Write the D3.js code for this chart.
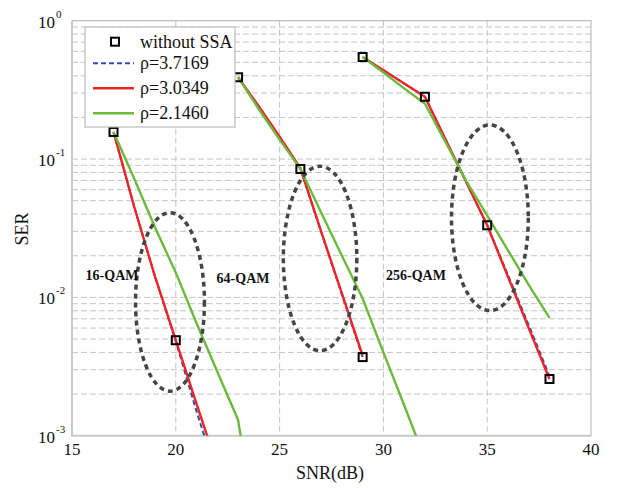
<!DOCTYPE html>
<html>
<head>
<meta charset="utf-8">
<script src="https://cdn.jsdelivr.net/npm/d3@7"></script>
<style>
  body { margin: 0; background: #fff; }
  text { font-family: "Liberation Serif", "Times New Roman", serif; fill: #111; }
</style>
</head>
<body>
<svg id="chart" width="617" height="488"></svg>
<script>
// SER vs SNR, three modulation orders
const noSsa = [[17, 0.157], [20, 0.0049], [23, 0.39], [26, 0.0847], [29, 0.0037],
    [29, 0.546], [32, 0.282], [35, 0.0332], [38, 0.00257]];

const blue16 = [[17, 0.157], [18, 0.045], [19, 0.0141], [20, 0.0048], [21, 0.0015], [22, 0.0005]];
const red16 = [[17, 0.157], [18, 0.045], [19, 0.0141], [20, 0.0049], [21, 0.0017], [22, 0.0006]];
const green16 = [[17, 0.157], [18, 0.072], [19, 0.032], [20, 0.0151], [21, 0.0065], [22, 0.0029], [23, 0.0013], [24, 0.00016]];

const blue64 = [[23, 0.39], [24, 0.24], [25, 0.145], [26, 0.0857], [27, 0.0298], [28, 0.0105], [29, 0.0037]];
const red64 = [[23, 0.39], [24, 0.24], [25, 0.145], [26, 0.0857], [27, 0.030], [28, 0.0107], [29, 0.0038]];
const green64 = [[23, 0.39], [24, 0.229], [25, 0.138], [26, 0.085], [27, 0.041], [28, 0.020], [29, 0.0098], [30, 0.0040], [31, 0.00166], [32, 0.00068]];

const blue256 = [[29, 0.546], [30, 0.439], [31, 0.352], [32, 0.282], [33, 0.138], [34, 0.0676], [35, 0.0332], [36, 0.0145], [37, 0.0063], [38, 0.0027]];
const red256 = [[29, 0.546], [30, 0.439], [31, 0.352], [32, 0.282], [33, 0.138], [34, 0.0676], [35, 0.0332], [36, 0.0141], [37, 0.0060], [38, 0.00257]];
const green256 = [[29, 0.546], [30, 0.422], [31, 0.324], [32, 0.251], [33, 0.132], [34, 0.069], [35, 0.039], [36, 0.0219], [37, 0.0123], [38, 0.0071]];

const legendLabels = ['without SSA', 'ρ=3.7169', 'ρ=3.0349', 'ρ=2.1460'];
const xTicks = [15, 20, 25, 30, 35, 40];
const yExponents = [0, -1, -2, -3];

// ellipse annotations: [centre SNR, centre SER, half width (dB), half height (decades)]
const ellipses = [[19.72, 0.00927, 1.66, 0.645], [26.95, 0.0191, 1.77, 0.667], [35.13, 0.0376, 1.85, 0.671]];
const groupLabels = [['16-QAM', 16.93, 0.0134], ['64-QAM', 23.24, 0.0128], ['256-QAM', 31.57, 0.0134]];

const colors = { blue: '#2f4fb5', red: '#ee2428', green: '#6cba3c', grid: '#c4c4c4', ring: '#454545' };

const margin = { left: 72, right: 26, top: 20.7, bottom: 52.3 },
    width = 617, height = 488;

const svg = d3.select('#chart');

const x = d3.scaleLinear().domain([15, 40]).range([margin.left, width - margin.right]);
const y = d3.scaleLog().domain([1e-3, 1]).range([height - margin.bottom, margin.top]);

const [x0, x1] = x.range(), [y0, y1] = [y(1e-3), y(1)];

svg.append('clipPath').attr('id', 'plot-clip')
    .append('rect')
    .attr('x', x0).attr('y', y1)
    .attr('width', x1 - x0).attr('height', y0 - y1);

// grid
const minorVals = [];
for (let e = -3; e < 0; e++) {
    for (let m = 2; m <= 9; m++) minorVals.push(m * Math.pow(10, e));
}

const grid = svg.append('g').attr('stroke', colors.grid).attr('stroke-dasharray', '6,3').attr('stroke-width', 1);

grid.selectAll('.hminor').data(minorVals).join('line')
    .attr('x1', x0).attr('x2', x1)
    .attr('y1', d => y(d)).attr('y2', d => y(d));

grid.selectAll('.hmajor').data([0.1, 0.01]).join('line')
    .attr('x1', x0).attr('x2', x1)
    .attr('y1', d => y(d)).attr('y2', d => y(d));

grid.selectAll('.vmajor').data(xTicks.slice(1, -1)).join('line')
    .attr('x1', d => x(d)).attr('x2', d => x(d))
    .attr('y1', y1).attr('y2', y0);

// frame
svg.append('path')
    .attr('d', `M${x0},${y1}H${x1}V${y0}`)
    .attr('fill', 'none').attr('stroke', '#bdbdbd').attr('stroke-width', 1.2);
svg.append('path')
    .attr('d', `M${x0},${y1}V${y0}H${x1}`)
    .attr('fill', 'none').attr('stroke', '#c9c9c9').attr('stroke-width', 2);

// axes labels
svg.append('g').selectAll('text').data(xTicks).join('text')
    .attr('x', d => x(d)).attr('y', 455)
    .attr('text-anchor', 'middle')
    .style('font-size', '17px')
    .text(d => d);

const yLab = svg.append('g').selectAll('text').data(yExponents).join('text')
    .attr('x', 38).attr('y', d => y(Math.pow(10, d)) + 7)
    .style('font-size', '17px');
yLab.append('tspan').text('10');
yLab.append('tspan').attr('dy', -10).attr('dx', 1).style('font-size', '11px').text(d => d);

svg.append('text')
    .attr('x', 330).attr('y', 479)
    .attr('text-anchor', 'middle')
    .style('font-size', '18px')
    .text('SNR(dB)');

svg.append('text')
    .attr('transform', 'translate(27.5,229) rotate(-90)')
    .attr('text-anchor', 'middle')
    .style('font-size', '18px')
    .text('SER');

// curves
const line = d3.line().x(d => x(d[0])).y(d => y(d[1]));
const plot = svg.append('g').attr('clip-path', 'url(#plot-clip)');

function drawSeries(data, color, dash, w) {
    plot.append('path')
        .datum(data)
        .attr('d', line)
        .attr('fill', 'none')
        .attr('stroke', color)
        .attr('stroke-width', w)
        .attr('stroke-dasharray', dash);
}

[blue16, blue64, blue256].forEach(s => drawSeries(s, colors.blue, '5,3', 2));
[red16, red64, red256].forEach(s => drawSeries(s, colors.red, null, 2.4));
[green16, green64, green256].forEach(s => drawSeries(s, colors.green, null, 2.4));

// ellipses, drawn in log space
const ring = svg.append('g')
    .attr('fill', 'none')
    .attr('stroke', colors.ring)
    .attr('stroke-width', 3.5)
    .attr('stroke-dasharray', '5,4');

ellipses.forEach(e => {
    const lc = Math.log10(e[1]);
    ring.append('ellipse')
        .attr('cx', x(e[0]))
        .attr('cy', y(e[1]))
        .attr('rx', x(e[0] + e[2]) - x(e[0]))
        .attr('ry', y(Math.pow(10, lc - e[3])) - y(e[1]));
});

svg.append('g').selectAll('text').data(groupLabels).join('text')
    .attr('x', d => x(d[1])).attr('y', d => y(d[2]))
    .attr('text-anchor', 'middle')
    .style('font-size', '14px')
    .style('font-weight', 'bold')
    .text(d => d[0]);

// markers
svg.append('g').selectAll('rect').data(noSsa).join('rect')
    .attr('x', d => x(d[0]) - 4).attr('y', d => y(d[1]) - 4)
    .attr('width', 8).attr('height', 8)
    .attr('fill', 'none').attr('stroke', '#000').attr('stroke-width', 2);

// legend
const legend = svg.append('g').attr('transform', 'translate(85,27)');

legend.append('rect')
    .attr('width', 150).attr('height', 100)
    .attr('fill', '#fff').attr('stroke', '#bdbdbd').attr('stroke-width', 1.2);

const rows = [14.7, 36.3, 61.3, 86.3];

legend.append('rect')
    .attr('x', 26).attr('y', rows[0] - 4)
    .attr('width', 8).attr('height', 8)
    .attr('fill', 'none').attr('stroke', '#000').attr('stroke-width', 2);

[[colors.blue, '5,3', 2], [colors.red, null, 2.4], [colors.green, null, 2.4]].forEach((s, i) => {
    legend.append('line')
        .attr('x1', 8).attr('x2', 49)
        .attr('y1', rows[i + 1]).attr('y2', rows[i + 1])
        .attr('stroke', s[0]).attr('stroke-width', s[2])
        .attr('stroke-dasharray', s[1]);
});

legend.selectAll('.lab').data(legendLabels).join('text')
    .attr('x', 55).attr('y', (d, i) => rows[i] + 6)
    .style('font-size', '18px')
    .text(d => d);
</script>
</body>
</html>
